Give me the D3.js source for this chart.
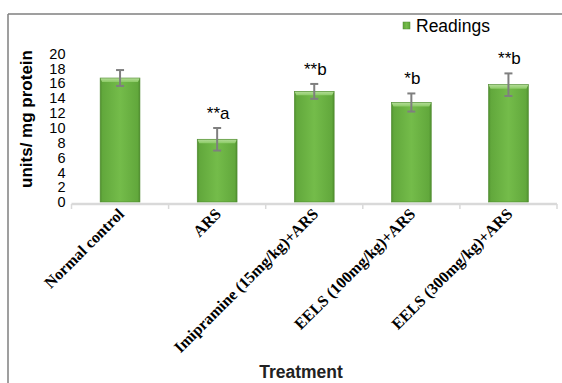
<!DOCTYPE html>
<html><head><meta charset="utf-8">
<script src="https://cdn.jsdelivr.net/npm/d3@7"></script>
<style>body{margin:0;background:#fff}svg{display:block}</style>
</head><body>
<script>
const categories = ["Normal control","ARS","Imipramine (15mg/kg)+ARS","EELS (100mg/kg)+ARS","EELS (300mg/kg)+ARS"];
const readings = [16.7, 8.45, 14.9, 13.4, 15.8];
const errors = [1.07, 1.52, 1.0, 1.22, 1.52];
const annotations = ["", "**a", "**b", "*b", "**b"];
const yTicks = [0,2,4,6,8,10,12,14,16,18,20];

const W=562,H=383;
const svg=d3.select("body").append("svg").attr("width",W).attr("height",H);
const defs=svg.append("defs");
const g1=defs.append("linearGradient").attr("id","barG").attr("x1","0").attr("x2","1").attr("y1","0").attr("y2","0");
[[0,"#4f8f2e"],[0.06,"#62a83c"],[0.5,"#74bc4a"],[0.94,"#62a83c"],[1,"#4f8f2e"]].forEach(s=>g1.append("stop").attr("offset",s[0]).attr("stop-color",s[1]));
const g2=defs.append("linearGradient").attr("id","topG").attr("x1","0").attr("x2","0").attr("y1","0").attr("y2","1");
[[0,"#b4dc98"],[1,"#8ccb66"]].forEach(s=>g2.append("stop").attr("offset",s[0]).attr("stop-color",s[1]));

// frame
svg.append("line").attr("x1",8).attr("x2",W).attr("y1",14).attr("y2",14).attr("stroke","#7f7f7f").attr("stroke-width",1.5);
svg.append("line").attr("x1",8).attr("x2",8).attr("y1",14).attr("y2",H).attr("stroke","#7f7f7f").attr("stroke-width",1.5);

const x=d3.scaleBand().domain(categories).range([71.5,557]).paddingInner(0.59).paddingOuter(0.295);
const y=d3.scaleLinear().domain([0,20]).range([202,53.5]);

// axis line
const xa=d3.scaleBand().domain(categories).range([71.5,557]);
svg.append("line").attr("x1",71.5).attr("x2",557).attr("y1",204).attr("y2",204).attr("stroke","#d9d9d9").attr("stroke-width",2.5);
const tickX=[...categories.map(c=>xa(c)),557];
svg.selectAll(".tk").data(tickX).join("line").attr("x1",d=>d).attr("x2",d=>d).attr("y1",204).attr("y2",209).attr("stroke","#d9d9d9").attr("stroke-width",1.5);

// y labels
svg.selectAll(".yl").data(yTicks).join("text").attr("x",65.5).attr("y",d=>y(d)).attr("dy","0.36em")
 .attr("text-anchor","end").attr("font-family","Liberation Sans, Arial, sans-serif").attr("font-size",14.5).attr("fill","#000").text(d=>d);

// bars
const bw=x.bandwidth();
const bars=svg.selectAll(".bar").data(categories).join("g");
bars.append("rect").attr("x",d=>x(d)).attr("width",bw).attr("y",(d,i)=>y(readings[i])).attr("height",(d,i)=>y(0)-y(readings[i])).attr("fill","url(#barG)");
bars.append("path").attr("d",(d,i)=>{const x0=x(d),x1=x0+bw,t=y(readings[i]),h=4;return `M${x0},${t}L${x1},${t}L${x1-2},${t+h}L${x0+2},${t+h}Z`;}).attr("fill","url(#topG)");
bars.append("rect").attr("x",d=>x(d)).attr("width",bw).attr("y",(d,i)=>y(readings[i])).attr("height",(d,i)=>y(0)-y(readings[i])).attr("fill","none").attr("stroke","#4f8a30").attr("stroke-width",0.6);

// error bars
const eb=svg.selectAll(".eb").data(categories).join("g").attr("stroke","#7f7f7f").attr("stroke-width",2);
eb.append("line").attr("x1",d=>x(d)+bw/2).attr("x2",d=>x(d)+bw/2).attr("y1",(d,i)=>y(readings[i]+errors[i])).attr("y2",(d,i)=>y(readings[i]-errors[i]));
eb.append("line").attr("x1",d=>x(d)+bw/2-4).attr("x2",d=>x(d)+bw/2+4).attr("y1",(d,i)=>y(readings[i]+errors[i])).attr("y2",(d,i)=>y(readings[i]+errors[i]));
eb.append("line").attr("x1",d=>x(d)+bw/2-4).attr("x2",d=>x(d)+bw/2+4).attr("y1",(d,i)=>y(readings[i]-errors[i])).attr("y2",(d,i)=>y(readings[i]-errors[i]));

// annotations
svg.selectAll(".an").data(categories).join("text").attr("x",d=>x(d)+bw/2+1).attr("y",(d,i)=>y(readings[i]+errors[i])-9)
 .attr("text-anchor","middle").attr("font-family","Liberation Sans, Arial, sans-serif").attr("font-size",17).attr("fill","#000").text((d,i)=>annotations[i]);

// x tick labels
svg.selectAll(".xl").data(categories).join("text")
 .attr("transform",d=>`translate(${x(d)+bw/2+5},${215}) rotate(-45)`)
 .attr("text-anchor","end").attr("font-family","Liberation Serif, Times New Roman, serif").attr("font-weight","bold").attr("font-size",16).attr("fill","#000").text(d=>d);

// axis titles
svg.append("text").attr("transform","translate(32,119) rotate(-90)").attr("text-anchor","middle")
 .attr("font-family","Liberation Sans, Arial, sans-serif").attr("font-weight","bold").attr("font-size",17).text("units/ mg protein");
svg.append("text").attr("x",301).attr("y",378).attr("text-anchor","middle")
 .attr("font-family","Liberation Sans, Arial, sans-serif").attr("font-weight","bold").attr("font-size",17.5).attr("fill","#222").text("Treatment");

// legend
svg.append("rect").attr("x",403).attr("y",22).attr("width",7).attr("height",7).attr("fill","url(#barG)").attr("stroke","#4f8a30").attr("stroke-width",0.5);
svg.append("text").attr("x",416).attr("y",32).attr("font-family","Liberation Sans, Arial, sans-serif").attr("font-size",17.5).attr("fill","#000").text("Readings");
</script>
</body></html>
